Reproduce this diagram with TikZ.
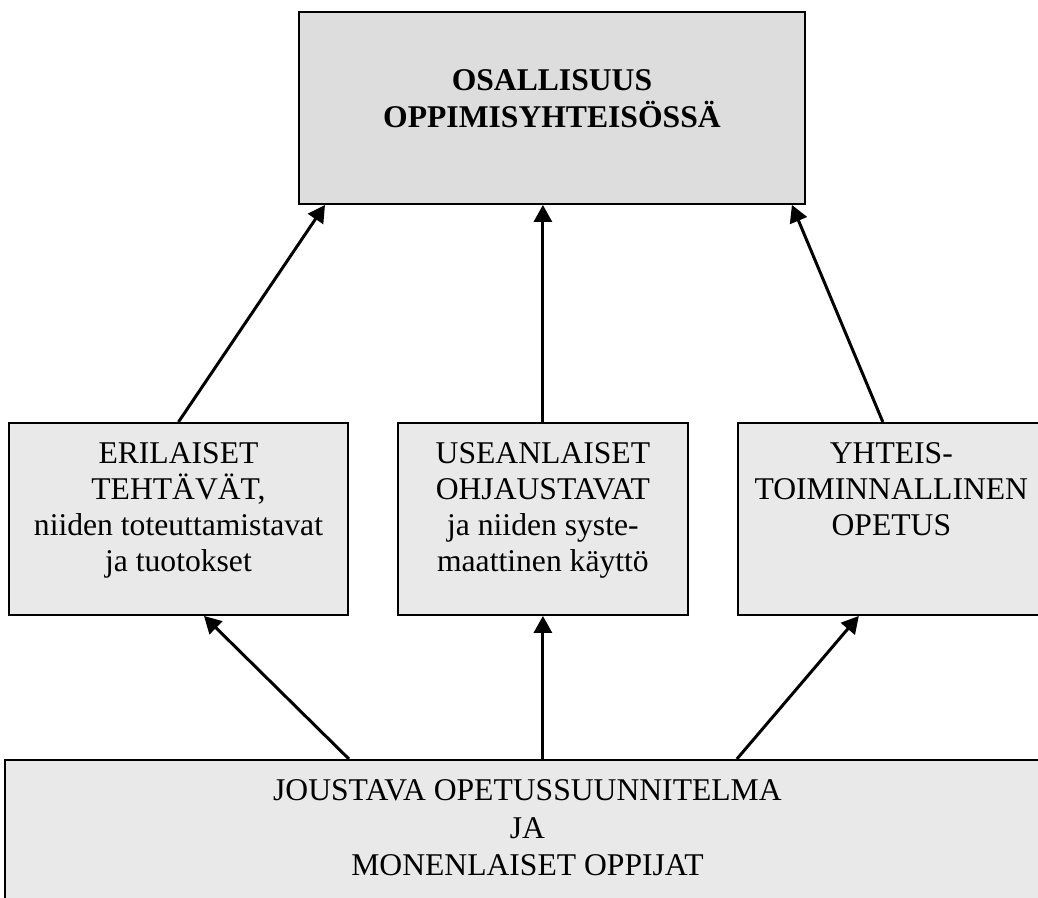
\documentclass[tikz,border=0pt]{standalone}
\usepackage{fontspec}
\setmainfont{Liberation Serif}
\usetikzlibrary{arrows.meta,positioning}

\definecolor{topgray}{HTML}{DDDDDD}
\definecolor{boxgray}{HTML}{E9E9E9}

\newcommand{\boxlines}[4]{\parbox[t][#1][t]{#2}{\centering\vspace*{#3}#4}}

\begin{document}
\begin{tikzpicture}[every node/.style={draw,line width=1.1pt,inner sep=0pt},
                    topbox/.style={fill=topgray,font=\fontsize{18}{21}\selectfont\bfseries},
                    midbox/.style={fill=boxgray,font=\fontsize{18}{20.5}\selectfont},
                    basebox/.style={fill=boxgray,font=\fontsize{18}{21.3}\selectfont},
                    flow/.style={-{Triangle[length=0.34cm,width=0.36cm]},line width=1.7pt}]

\useasboundingbox (0,0) rectangle (20.76,-17.96);

\node[topbox,anchor=north west] (goal) at (5.96,-0.22)
  {\boxlines{3.84cm}{10.12cm}{1.16cm}{OSALLISUUS\\ OPPIMISYHTEISÖSSÄ}};

\node[midbox,anchor=north west] (tasks) at (0.16,-8.44)
  {\boxlines{3.84cm}{6.78cm}{0.4cm}{ERILAISET\\ TEHTÄVÄT,\\ niiden toteuttamistavat\\ ja tuotokset}};
\node[midbox,right=0.96cm of tasks] (guidance)
  {\boxlines{3.84cm}{5.8cm}{0.4cm}{USEANLAISET\\ OHJAUSTAVAT\\ ja niiden syste-\\ maattinen käyttö}};
\node[midbox,right=0.96cm of guidance] (coop)
  {\boxlines{3.84cm}{6.14cm}{0.4cm}{YHTEIS-\\ TOIMINNALLINEN\\ OPETUS}};

\node[basebox,anchor=north west] (base) at (0.08,-15.18)
  {\boxlines{3.4cm}{20.9cm}{0.4cm}{JOUSTAVA OPETUSSUUNNITELMA\\ JA\\ MONENLAISET OPPIJAT}};

\draw[flow] (tasks.north) -- ([xshift=0.54cm]goal.south west);
\draw[flow] (guidance.north) -- (guidance.north |- goal.south);
\draw[flow] ([xshift=-0.17cm]coop.north) -- ([xshift=-0.28cm]goal.south east);

\draw[flow] (tasks.south east |- base.north) -- ([xshift=0.51cm]tasks.south);
\draw[flow] (guidance.south |- base.north) -- (guidance.south);
\draw[flow] (coop.south west |- base.north) -- ([xshift=-0.65cm]coop.south);

\end{tikzpicture}
\end{document}
